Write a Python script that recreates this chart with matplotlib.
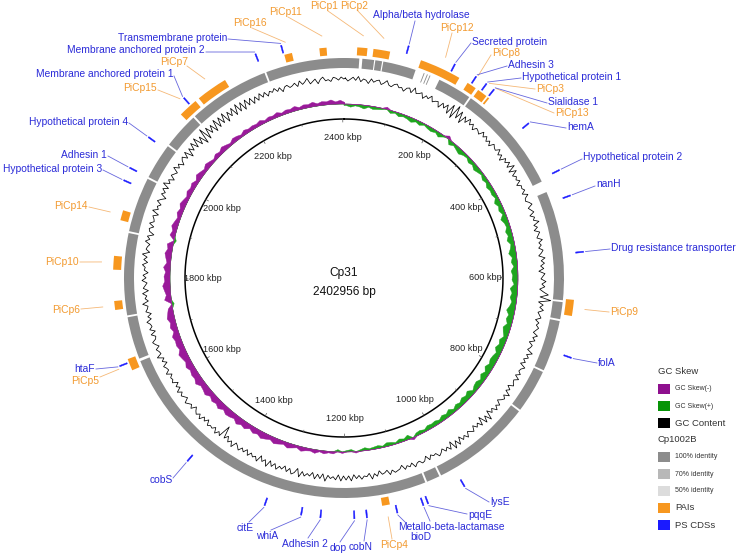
import numpy as np
import matplotlib
matplotlib.use('Agg')
import matplotlib.pyplot as plt
from matplotlib.patches import Wedge, Rectangle
from matplotlib.collections import PatchCollection

plt.rcParams['font.family'] = ['Liberation Sans', 'DejaVu Sans']

# ---------------- data ----------------
GENOME_NAME = 'Cp31'
GENOME_LEN = 2402956          # bp
TICK_KBP = list(range(200, 2401, 200))
SKEW_BIN_KBP = 10
GC_BIN_KBP = 5

# GC skew per 10 kbp bin (positive = green, negative = purple)
gc_skew = [
    2, 4, 2, 3, 5, 2, 4, 3, 2, -3, 4, 2, 5, 3, 4, 6, 3, 5, 2, 4,
    5, 3, 6, 2, -4, 6, 3, 5, 7, 4, 3, 6, 4, 7, 5, 3, 6, 4, 7, 5,
    6, 4, 8, 5, 7, 4, 9, 6, 5, 8, 6, 9, 5, 7, 10, 6, 8, 5, 9, 7,
    8, 5, 10, 7, 9, 6, 8, 11, 7, 9, 6, 10, 8, 5, 9, 7, 10, 6, 8, 9,
    7, 10, 6, 9, 5, 8, 7, 4, 9, 6, 8, 5, 7, 4, 8, 5, 7, 4, 6, 5,
    6, 3, 5, 4, -3, 6, 3, 5, 2, 4, 5, 2, 4, 3, 2, 4, 2, -2, 3, 2,
    -2, 3, -3, -2, -4, -2, -5, -3, -4, -6, -3, -5, -7, -4, -6, -8, -5, -7, -9, -6,
    -8, -5, -9, -7, -10, -6, -8, -9, -6, -10, -7, -9, -6, -10, -8, -7, -11, -8, -9, -7,
    -10, -7, -9, -11, -7, -9, -8, -10, -6, -9, -7, -10, -8, -6, 3, -9, -6, -8, -10, -7,
    -8, -6, -9, -5, -7, -9, -6, -8, 3, -7, -5, -8, -6, -4, -7, -5, -8, -6, -4, -7,
    -5, -7, -4, -8, -6, -4, -7, -5, -3, -6, -4, -7, -5, -3, -6, -5, -3, -6, -4, -5,
    -4, -6, -3, -5, -4, -6, -3, -5, -4, -6, -3, -5, -4, -6, -3, -5, -4, -6, -3, -5, -2,
]

# GC content deviation per 5 kbp bin
gc_content = [
    1, -2, 0, 2, -1, 3, -2, 1, 0, -3, 2, -1, 1, 2, -2, 0, 3, -1, -2, 1,
    2, -1, 0, -3, 1, 2, -2, 4, -1, 0, 2, -3, 1, -1, 3, -2, 0, 1, -4, 2,
    -2, 3, -5, 6, -7, 8, -4, 5, -6, 3, -2, 4, -1, 2, -3, 1, 0, -2, 3, -1,
    2, -2, 1, -3, 2, 0, -1, 3, -2, 1, -4, 2, -1, 3, -2, 5, -3, 4, -2, 1,
    -1, 2, -3, 1, 0, 2, -2, 3, -1, -2, 1, 3, -2, 0, 2, -3, 1, -1, 4, -2,
    1, -3, 2, 0, -2, 3, -1, 1, -2, 2, 0, -3, 3, -1, 2, -2, 1, -4, 2, 0,
    -2, 3, -1, 2, -3, 1, 6, -2, 9, -3, 2, -1, 3, -2, 0, 2, -3, 1, -1, 2,
    0, -2, 3, -1, 2, -3, 1, 0, -2, 4, -1, 2, -2, 1, -3, 3, 0, -1, 2, -2,
    3, -1, 0, 2, -3, 1, -2, 4, -1, 2, 0, -3, 2, -1, 3, -2, 1, -4, 5, -2,
    4, -5, 3, -2, 1, -3, 2, 0, -2, 3, -1, 2, -3, 4, -2, 5, -4, 3, -1, 2,
    -2, 1, 3, -1, 0, -2, 2, -3, 1, 2, -1, 0, 3, -2, 1, -1, 2, -3, 0, 1,
    2, -1, 3, -2, 0, 1, -3, 2, -1, 4, -2, 1, 0, 3, -1, 2, -2, 4, -1, 3,
    -1, 4, -2, 3, 0, 2, -1, 5, -2, 3, -1, 4, -2, 2, 0, 3, -1, 5, -3, 2,
    4, -1, 3, -2, 2, 0, 4, -1, 3, -2, 5, -1, 2, -3, 4, 0, 2, -1, 3, -2,
    2, -1, 3, 0, -2, 4, -1, 2, -3, 1, -11, 2, -1, 3, -2, 1, 0, 2, -3, 1,
    -2, 3, -1, 2, 0, -3, 2, -1, 1, 3, -2, 0, 2, -1, 3, -2, 1, -3, 2, 0,
    1, -2, 3, -1, 0, 2, -3, 1, -2, 4, -1, 0, 2, -2, 1, 3, -1, -2, 2, -3,
    2, -1, 0, 3, -2, 1, -3, 2, 0, -1, 4, -2, 1, -1, 3, -3, 2, 0, -2, 3,
    -1, 2, -3, 1, 0, 3, -2, 2, -1, 4, -3, 1, 0, -2, 3, -1, 2, -4, 1, 2,
    -2, 3, -1, 0, 2, -3, 4, -1, 1, -2, 3, 0, -4, 2, -1, 3, -2, 5, -1, 2,
    -3, 2, 0, -2, 4, -1, 2, -3, 1, 3, -2, 4, -5, 3, -2, 5, -3, 6, -4, 3,
    -7, 8, -6, 5, -3, 4, -5, 6, -4, 5, -3, 6, -5, 4, -2, 5, -4, 6, -3, 5,
    -4, 5, -2, 4, -3, 3, -2, 4, -1, 3, -2, 2, 0, 3, -1, 2, -3, 1, 2, -1,
    0, 2, -2, 3, -1, 1, 4, -2, 0, 2, -3, 1, 3, -1, 0, -2, 2, 1, -1, 2,
    0,
]

# Cp1002B identity hits (kbp)
ident_start = [0, 32.0, 54.7, 68.8, 142.0, 148.0, 153.0, 171.5, 235.0, 447.2, 642.8,
               676.2, 769.6, 849.7, 1030.0, 1056.7, 1658.7, 1736.8, 1884.3, 1984.5,
               2051.3, 2118.0, 2264.8]
ident_end = [26.7, 52.7, 66.7, 126.8, 143.5, 149.5, 154.5, 231.6, 427.2, 639.5, 672.8,
             766.3, 846.4, 1026.6, 1053.3, 1654.0, 1733.5, 1881.0, 1981.1, 2047.9,
             2114.6, 2261.5, 2402.956]

# Pathogenicity islands (kbp)
pai_names = ['PiCp1', 'PiCp2', 'PiCp12', 'PiCp8', 'PiCp3', 'PiCp13', 'PiCp9', 'PiCp4',
             'PiCp5', 'PiCp6', 'PiCp10', 'PiCp14', 'PiCp15', 'PiCp7', 'PiCp16', 'PiCp11']
pai_start = [22, 49, 130, 216, 237, 257, 637, 1125, 1645, 1749, 1816, 1899, 2103, 2143, 2303, 2362]
pai_end = [39, 77, 200, 232, 254, 260, 664, 1138, 1665, 1764, 1839, 1916, 2136, 2196, 2316, 2374]

# Positively selected CDSs (kbp)
cds_names = ['Alpha/beta hydrolase', 'Secreted protein', 'Adhesin 3', 'Hypothetical protein 1',
             'Sialidase 1', 'hemA', 'Hypothetical protein 2', 'nanH',
             'Drug resistance transporter', 'folA', 'lysE', 'pqqE', 'Metallo-beta-lactamase',
             'bioD', 'cobN', 'dop', 'Adhesin 2', 'whiA', 'citE', 'cobS', 'htaF',
             'Hypothetical protein 3', 'Adhesin 1', 'Hypothetical protein 4',
             'Membrane anchored protein 1', 'Membrane anchored protein 2', 'Transmembrane protein']
cds_pos = [104, 183, 222, 242, 257, 334, 423, 467, 559, 730, 1001, 1065, 1073, 1116, 1165,
           1185, 1239, 1270, 1330, 1472, 1659, 1962, 1984, 2041, 2125, 2259, 2302]

legend_items = [('GC Skew', None, None), ('GC Skew(-)', 'skewneg', 'small'),
                ('GC Skew(+)', 'skewpos', 'small'), ('GC Content', 'gc', 'big'),
                ('Cp1002B', None, None), ('100% identity', 'id100', 'small'),
                ('70% identity', 'id70', 'small'), ('50% identity', 'id50', 'small'),
                ('PAIs', 'pai', 'big'), ('PS CDSs', 'cds', 'big')]

# ---------------- layout / style ----------------
CX, CY = 344, 278
R_TICK = 159
R_TLAB = 141
R_SKEW = 174
SKEW_SCALE = 0.75
R_GC = 199
GC_SCALE = 1.0
R_ID = (210, 220)
R_PAI = (223, 231)
R_CDS = (233, 241)
R_LEAD = 243

COL = dict(skewneg='#9a1a9a', skewpos='#1fa51f', gc='#000000', id100='#8c8c8c',
           id70='#b8b8b8', id50='#dcdcdc', pai='#f7971f', cds='#1a1aff')
LEG_COL = dict(COL, skewneg='#8e0f8e', skewpos='#079407')
TXT_BLUE = '#2b2bd8'
TXT_ORANGE = '#f29a30'
LINE_BLUE = '#6666dd'
LINE_ORANGE = '#f5b877'

# label layout: name -> (x, y, ha, leader_x, leader_y)
label_layout = {
    'Transmembrane protein': (227, 38, 'right', 228, 39),
    'Membrane anchored protein 2': (205, 50, 'right', 206, 52),
    'Membrane anchored protein 1': (173, 74, 'right', 174, 76),
    'Hypothetical protein 4': (128, 122, 'right', 129, 123),
    'Adhesin 1': (107, 155, 'right', 108, 156),
    'Hypothetical protein 3': (102, 169, 'right', 103, 170),
    'htaF': (95, 369, 'right', 96, 369),
    'cobS': (173, 480, 'right', 173, 478),
    'citE': (245, 528, 'center', 249, 522),
    'whiA': (267, 536, 'center', 271, 530),
    'Adhesin 2': (305, 544, 'center', 308, 538),
    'dop': (338, 548, 'center', 340, 542),
    'cobN': (361, 547, 'center', 364, 541),
    'bioD': (421, 537, 'center', 405, 522),
    'Metallo-beta-lactamase': (398, 527, 'left', 430, 521),
    'pqqE': (468, 515, 'left', 467, 514),
    'lysE': (490, 502, 'left', 489, 502),
    'folA': (598, 363, 'left', 597, 363),
    'Drug resistance transporter': (611, 248, 'left', 610, 249),
    'nanH': (596, 184, 'left', 595, 186),
    'Hypothetical protein 2': (583, 157, 'left', 582, 159),
    'hemA': (567, 127, 'left', 566, 128),
    'Sialidase 1': (548, 102, 'left', 547, 103),
    'Hypothetical protein 1': (522, 77, 'left', 521, 78),
    'Adhesin 3': (508, 65, 'left', 507, 66),
    'Secreted protein': (472, 42, 'left', 471, 43),
    'Alpha/beta hydrolase': (421, 15, 'center', 415, 21),
    'PiCp16': (250, 23, 'center', 252, 28),
    'PiCp11': (285, 12, 'center', 288, 17),
    'PiCp1': (324, 6, 'center', 328, 11),
    'PiCp2': (354, 6, 'center', 357, 10),
    'PiCp12': (457, 28, 'center', 452, 33),
    'PiCp8': (492, 53, 'left', 491, 55),
    'PiCp3': (536, 89, 'left', 535, 89),
    'PiCp13': (555, 113, 'left', 554, 113),
    'PiCp9': (610, 312, 'left', 609, 312),
    'PiCp4': (394, 545, 'center', 392, 539),
    'PiCp5': (85, 381, 'center', 100, 377),
    'PiCp6': (80, 310, 'right', 81, 309),
    'PiCp10': (79, 262, 'right', 80, 262),
    'PiCp14': (88, 206, 'right', 89, 207),
    'PiCp15': (157, 88, 'right', 158, 90),
    'PiCp7': (174, 62, 'center', 187, 66),
}


def theta(kbp):
    return 360.0 * kbp * 1000.0 / GENOME_LEN


def pt(kbp, r):
    t = np.deg2rad(theta(np.asarray(kbp, dtype=float)))
    return CX + r * np.sin(t), CY - r * np.cos(t)


def wedge(k1, k2, r_in, r_out):
    return Wedge((CX, CY), r_out, theta(k1) - 90, theta(k2) - 90, width=r_out - r_in)


fig = plt.figure(figsize=(7.38, 5.56), dpi=100)
ax = fig.add_axes([0, 0, 1, 1])
ax.set_xlim(0, 738)
ax.set_ylim(556, 0)
ax.axis('off')

# inner tick circle
tt = np.linspace(0, 2 * np.pi, 720)
ax.plot(CX + R_TICK * np.sin(tt), CY - R_TICK * np.cos(tt), color='black', lw=1.1)
for k in range(100, 2401, 100):
    L = 3.0 if k % 200 == 0 else 1.6
    x0, y0 = pt(k, R_TICK)
    x1, y1 = pt(k, R_TICK - L)
    ax.plot([x0, x1], [y0, y1], color='#555555', lw=0.5)
for k in TICK_KBP:
    x, y = pt(k, R_TLAB)
    ax.text(x, y, f'{k} kbp', ha='center', va='center', fontsize=6.6, color='#222222')

ax.text(CX, 273, GENOME_NAME, ha='center', va='center', fontsize=8.6, color='#111111')
ax.text(CX, 292, f'{GENOME_LEN} bp', ha='center', va='center', fontsize=8.6, color='#111111')

# GC skew: filled spiky profile on both sides of a baseline
n = len(gc_skew)
kc = np.array([(i + 0.5) * SKEW_BIN_KBP for i in range(n)])
vals = np.array(gc_skew, dtype=float) * SKEW_SCALE
kfull = np.concatenate([[0.0], kc, [GENOME_LEN / 1000]])
for sign, key in ((1, 'skewpos'), (-1, 'skewneg')):
    v = np.clip(sign * vals, 0, None)
    vfull = np.concatenate([[v[0]], v, [v[-1]]])
    r_out = R_SKEW - vfull if sign > 0 else R_SKEW + vfull
    xo, yo = pt(kfull, r_out)
    xb, yb = pt(kfull[::-1], R_SKEW)
    ax.fill(np.concatenate([xo, xb]), np.concatenate([yo, yb]),
            facecolor=COL[key], edgecolor=COL[key], lw=0.3)

# GC content: line around a baseline
gv = np.array(gc_content, dtype=float) * GC_SCALE
kg = np.array([(i + 0.5) * GC_BIN_KBP for i in range(len(gv))])
xg, yg = pt(kg, R_GC + gv)
ax.plot(np.append(xg, xg[0]), np.append(yg, yg[0]), color=COL['gc'], lw=0.55)

# identity ring
patches = [wedge(a, b, R_ID[0], R_ID[1]) for a, b in zip(ident_start, ident_end)]
ax.add_collection(PatchCollection(patches, facecolors=COL['id100'], edgecolors='none'))

# PAIs
patches = [wedge(a, b, R_PAI[0], R_PAI[1]) for a, b in zip(pai_start, pai_end)]
ax.add_collection(PatchCollection(patches, facecolors=COL['pai'], edgecolors='none'))

# CDSs
patches = [wedge(p - 1.0, p + 1.0, R_CDS[0], R_CDS[1]) for p in cds_pos]
ax.add_collection(PatchCollection(patches, facecolors=COL['cds'], edgecolors=COL['cds'],
                                  linewidths=0.3))

# labels
for name, a, b in zip(pai_names, pai_start, pai_end):
    x, y, ha, lx, ly = label_layout[name]
    ex, ey = pt((a + b) / 2, R_LEAD)
    ax.plot([lx, ex], [ly, ey], color=LINE_ORANGE, lw=0.6)
    ax.text(x, y, name, ha=ha, va='center', fontsize=7.4, color=TXT_ORANGE)
for name, p in zip(cds_names, cds_pos):
    x, y, ha, lx, ly = label_layout[name]
    ex, ey = pt(p, R_LEAD)
    ax.plot([lx, ex], [ly, ey], color=LINE_BLUE, lw=0.6)
    ax.text(x, y, name, ha=ha, va='center', fontsize=7.4, color=TXT_BLUE)

# legend
ly = 372
for text, key, size in legend_items:
    if key is None:
        ax.text(658, ly, text, ha='left', va='center', fontsize=6.8, color='#333333')
        ly += 17
        continue
    ax.add_patch(Rectangle((658, ly - 5), 12, 10, facecolor=LEG_COL[key], edgecolor='none'))
    ax.text(675, ly, text, ha='left', va='center',
            fontsize=5.0 if size == 'small' else 6.8, color='#333333')
    ly += 17

fig.savefig('out.png', dpi=100)
